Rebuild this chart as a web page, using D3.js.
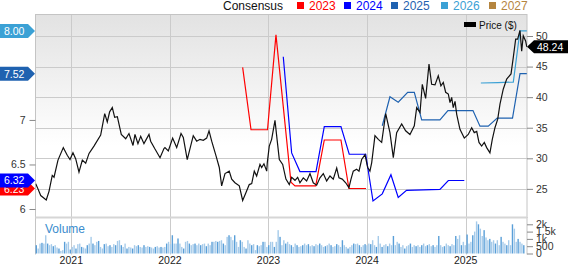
<!DOCTYPE html>
<html><head><meta charset="utf-8">
<script src="https://cdn.jsdelivr.net/npm/d3@7"></script>
<style>body{margin:0;background:#fff}svg{display:block;font-family:"Liberation Sans",Arial,sans-serif}</style>
</head><body><svg id="c" width="568" height="264"></svg>
<script>
// ---------- DATA ----------
const priceT = [2020.639,2020.662,2020.69,2020.746,2020.774,2020.807,2020.825,2020.865,2020.919,2020.959,2020.987,2021.017,2021.045,2021.078,2021.112,2021.146,2021.18,2021.23,2021.298,2021.339,2021.365,2021.389,2021.416,2021.44,2021.467,2021.507,2021.552,2021.585,2021.626,2021.646,2021.676,2021.704,2021.737,2021.788,2021.805,2021.846,2021.9,2021.94,2021.95,2021.984,2022.028,2022.069,2022.113,2022.136,2022.176,2022.237,2022.272,2022.305,2022.339,2022.373,2022.397,2022.424,2022.468,2022.501,2022.525,2022.559,2022.602,2022.627,2022.66,2022.704,2022.738,2022.772,2022.805,2022.83,2022.856,2022.88,2022.914,2022.931,2022.954,2022.982,2022.988,2023.008,2023.032,2023.066,2023.089,2023.11,2023.144,2023.177,2023.211,2023.235,2023.269,2023.296,2023.319,2023.353,2023.387,2023.421,2023.454,2023.489,2023.522,2023.556,2023.59,2023.624,2023.657,2023.692,2023.715,2023.748,2023.783,2023.816,2023.837,2023.86,2023.894,2023.918,2023.945,2023.979,2024.006,2024.029,2024.047,2024.08,2024.114,2024.148,2024.189,2024.232,2024.266,2024.3,2024.351,2024.391,2024.435,2024.479,2024.503,2024.537,2024.56,2024.594,2024.628,2024.655,2024.689,2024.722,2024.749,2024.773,2024.797,2024.824,2024.841,2024.858,2024.874,2024.892,2024.909,2024.942,2024.986,2025.026,2025.061,2025.087,2025.112,2025.135,2025.162,2025.189,2025.213,2025.246,2025.27,2025.297,2025.325,2025.348,2025.381,2025.416,2025.46,2025.483,2025.507,2025.527,2025.551,2025.568,2025.584,2025.608,2025.62];
const priceV = [25.85,25.0,23.9,23.2,24.6,27.2,26.9,29.7,31.75,30.5,29.8,30.9,29.9,27.75,29.7,29.2,30.8,32.0,33.8,37.3,35.95,37.6,38.3,36.7,36.8,33.9,33.2,34.05,32.1,33.9,32.4,33.6,32.4,33.9,32.8,31.6,30.1,31.6,31.75,31.2,33.3,31.75,34.05,33.4,29.8,33.7,32.8,33.1,32.95,33.3,34.5,32.8,30.4,28.5,25.5,27.5,27.9,26.6,26.0,25.5,23.1,24.4,25.7,25.85,27.9,27.1,29.0,28.5,29.1,27.9,29.3,32.0,33.1,36.2,32.8,29.8,29.0,26.6,25.7,26.9,26.4,26.9,26.0,26.8,26.3,27.5,26.0,25.6,26.8,27.5,26.3,27.1,26.6,28.4,26.8,26.6,26.0,25.2,26.6,27.9,28.2,27.9,29.8,30.6,28.5,27.9,29.3,33.7,33.1,32.6,37.3,34.2,30.1,34.2,35.6,34.5,33.9,35.3,38.3,37.5,42.1,39.8,45.4,42.1,42.0,43.5,41.85,42.4,40.8,40.5,39.1,39.95,38.3,39.3,37.2,34.75,33.3,33.9,35.0,34.2,34.4,32.6,32.0,32.6,31.75,30.9,33.1,35.0,36.4,38.85,41.3,42.95,43.8,46.5,49.5,49.5,50.9,47.5,50.05,49.2,48.24];

const cons2023T = [2022.738,2022.823,2022.99,2023.076,2023.228,2023.269,2023.479,2023.566,2023.735,2023.816,2023.989];
const cons2023V = [7.59,6.89,6.89,7.955,6.30,6.26,6.26,6.775,6.775,6.23,6.23];
const cons2024T = [2023.15,2023.235,2023.319,2023.482,2023.566,2023.735,2023.819,2023.986,2024.06,2024.154,2024.242,2024.316,2024.40,2024.739,2024.824,2024.986];
const cons2024V = [7.71,6.63,6.42,6.42,6.925,6.925,6.615,6.615,6.09,6.17,6.385,6.13,6.21,6.22,6.32,6.32];
const cons2025T = [2024.154,2024.232,2024.316,2024.412,2024.479,2024.554,2024.739,2024.82,2025.074,2025.145,2025.229,2025.32,2025.475,2025.551,2025.62];
const cons2025V = [6.935,7.26,7.20,7.31,7.31,7.00,7.00,7.105,7.105,6.93,6.93,7.02,7.02,7.52,7.52];
const cons2026T = [2025.154,2025.326,2025.483,2025.551,2025.62];
const cons2026V = [7.415,7.42,7.425,8.00,8.00];

const seriesNames = ["2023","2024","2025","2026","2027"];
const seriesColors = ["#ff0000","#0000ff","#1f62b0","#3ba1d5","#b5853f"];
const lastEps = [6.23,6.32,7.52,8.00]; // for 2023,2024,2025,2026
const lastPrice = 48.24;

const yearTicks = [2021,2022,2023,2024,2025];
const priceTicks = [25,30,35,40,45,50];
const epsTicks = [6,6.5,7];
const volTicks = [0,500,1000,1500,2000];
const volTickLabels = ["0","500","1k","1.5k","2k"];

const volStart = 2020.645; // first weekly bar
const volume = [570,340,680,730,680,1250,680,570,640,500,570,410,340,180,230,800,680,800,270,
450,570,340,640,680,450,410,340,570,680,1140,680,570,800,860,450,340,640,680,500,570,450,640,570,860,910,570,450,680,340,450,410,340,570,500,570,450,410,570,450,500,450,410,340,450,500,410,450,410,450,680,800,
640,1250,680,680,1030,680,450,340,800,860,680,570,640,680,570,680,570,640,680,500,680,570,800,800,860,800,860,910,680,570,1140,1250,1140,910,1250,800,450,910,800,450,340,910,680,570,640,230,570,500,570,800,800,450,
570,800,800,450,800,1600,1140,570,910,680,800,640,570,450,680,570,450,500,570,680,570,640,500,570,500,640,570,680,570,450,500,570,680,570,450,500,640,570,450,910,570,450,340,450,570,680,640,680,570,450,570,640,
570,680,640,910,570,450,1200,680,450,570,640,500,680,570,1200,570,800,680,450,570,340,500,570,680,450,570,500,570,450,570,680,500,570,640,500,570,450,570,1200,570,450,500,680,570,500,640,570,1200,1000,1250,570,800,
570,1300,680,800,1250,1500,2200,2000,1700,1200,1600,1100,910,1000,800,910,680,910,570,1140,800,680,570,910,570,2000,1700,800,1000,800,680,570];

// ---------- LAYOUT ----------
const svg = d3.select("#c");
const L = 35.5, R = 527, T = 14, B = 217, VB = 253.5, VT = 224.3;
const x = d3.scaleLinear().domain([2020.637, 2025.622]).range([L, R]);
const yP = d3.scaleLinear().domain([20.4, 53.6]).range([B, T]);
const yE = d3.scaleLinear().domain([5.91, 8.19]).range([B, T]);
const yV = d3.scaleLinear().domain([0, 2000]).range([VB, VT]);

const defs = svg.append("defs");
const grad = defs.append("linearGradient").attr("id","bg").attr("x1",0).attr("y1",0).attr("x2",0).attr("y2",1);
grad.append("stop").attr("offset","0%").attr("stop-color","#e2e2e2");
grad.append("stop").attr("offset","65%").attr("stop-color","#ffffff");
defs.append("clipPath").attr("id","clip").append("rect").attr("x",L).attr("y",T).attr("width",R-L).attr("height",B-T);

svg.append("rect").attr("x",L).attr("y",T).attr("width",R-L).attr("height",B-T).attr("fill","url(#bg)");

// horizontal grid
svg.append("g").selectAll("line").data(priceTicks).join("line")
  .attr("x1",L).attr("x2",R).attr("y1",d=>Math.round(yP(d))+0.5).attr("y2",d=>Math.round(yP(d))+0.5)
  .attr("stroke","#cbcbcb");
// vertical grid
svg.append("g").selectAll("line").data(yearTicks).join("line")
  .attr("x1",d=>Math.round(x(d))+0.5).attr("x2",d=>Math.round(x(d))+0.5).attr("y1",T).attr("y2",VB+1)
  .attr("stroke","#cbcbcb");
// frame
svg.append("rect").attr("x",L).attr("y",T+0.5).attr("width",R-L).attr("height",B-T).attr("fill","none").attr("stroke","#c4c4c4");
svg.append("line").attr("x1",R).attr("x2",R).attr("y1",B).attr("y2",VB+1).attr("stroke","#c4c4c4");
svg.append("line").attr("x1",L).attr("x2",L).attr("y1",B).attr("y2",VB+1).attr("stroke","#c4c4c4");
svg.append("line").attr("x1",L).attr("x2",R).attr("y1",B+0.5).attr("y2",B+0.5).attr("stroke","#d6d6d6").attr("stroke-width",2);

// volume bars
const volG = svg.append("g");
volG.selectAll("rect").data(volume).join("rect")
  .attr("x",(d,i)=>x(volStart + i*7/365.25)-0.7)
  .attr("width",1.4)
  .attr("y",d=>yV(d))
  .attr("height",d=>VB-yV(d))
  .attr("fill",(d,i)=> (i%3===0) ? "#5a9fd8" : "#a6cbea");
svg.append("text").attr("x",45).attr("y",233).attr("fill","#3a8ccd").attr("font-size",12).text("Volume");

// consensus lines
const plot = svg.append("g").attr("clip-path","url(#clip)");
const consT = [cons2023T,cons2024T,cons2025T,cons2026T];
const consV = [cons2023V,cons2024V,cons2025V,cons2026V];
consT.forEach((ts,k)=>{
  const pts = ts.map((t,i)=>[x(t), yE(consV[k][i])]);
  plot.append("path").attr("d",d3.line()(pts)).attr("fill","none")
    .attr("stroke",seriesColors[k]).attr("stroke-width",1.2);
});
// price line
const ppts = priceT.map((t,i)=>[x(t), yP(priceV[i])]);
plot.append("path").attr("d",d3.line()(ppts)).attr("fill","none").attr("stroke","#111").attr("stroke-width",1.2);

// right axis (price)
const ra = svg.append("g").attr("transform",`translate(${R},0)`)
  .call(d3.axisRight(yP).tickValues(priceTicks).tickSize(6).tickPadding(3));
ra.select(".domain").remove();
ra.selectAll("line").attr("stroke","#888");
ra.selectAll("text").attr("font-size",10.5).attr("fill","#333").attr("font-family","Liberation Sans, Arial");

// right axis (volume)
const va = svg.append("g").attr("transform",`translate(${R},0)`)
  .call(d3.axisRight(yV).tickValues(volTicks).tickSize(6).tickPadding(3).tickFormat((d,i)=>volTickLabels[i]));
va.select(".domain").remove();
va.selectAll("line").attr("stroke","#888");
va.selectAll("text").attr("font-size",10.5).attr("fill","#333").attr("font-family","Liberation Sans, Arial");

// left axis (EPS)
const la = svg.append("g").attr("transform",`translate(${L},0)`)
  .call(d3.axisLeft(yE).tickValues(epsTicks).tickSize(6).tickPadding(4).tickFormat(d3.format("")));
la.select(".domain").remove();
la.selectAll("line").attr("stroke","#888");
la.selectAll("text").attr("font-size",10.5).attr("fill","#333").attr("font-family","Liberation Sans, Arial");

// bottom year labels
svg.append("g").selectAll("text").data(yearTicks).join("text")
  .attr("x",d=>x(d)).attr("y",263.5).attr("text-anchor","middle").attr("font-size",10.5).attr("fill","#222").text(d=>d);

// left value tags (2023 first so 2024 overlaps)
lastEps.forEach((v,k)=>{
  const cy = yE(v);
  const g = svg.append("g");
  g.append("path").attr("d",`M0,${cy-7}H28L35,${cy}L28,${cy+7}H0Z`).attr("fill",seriesColors[k]);
  g.append("text").attr("x",4).attr("y",cy+4).attr("fill","#fff").attr("font-size",10.5).text(d3.format(".2f")(v));
});

// price tag
const py = yP(lastPrice);
svg.append("path").attr("d",`M${R},${py}L${R+7},${py-6.5}H568V${py+6.5}H${R+7}Z`).attr("fill","#000");
svg.append("text").attr("x",537).attr("y",py+4).attr("fill","#fff").attr("font-size",10.5).text(d3.format(".2f")(lastPrice));

// legend
svg.append("text").attr("x",223).attr("y",9.5).attr("font-size",12).attr("fill","#111").text("Consensus");
const legX = [297,344,391,441,489];
seriesNames.forEach((n,k)=>{
  svg.append("rect").attr("x",legX[k]).attr("y",2).attr("width",7).attr("height",7).attr("fill",seriesColors[k]);
  svg.append("text").attr("x",legX[k]+12).attr("y",9.5).attr("font-size",12).attr("fill",seriesColors[k]).text(n);
});
svg.append("rect").attr("x",464).attr("y",22).attr("width",12).attr("height",5).attr("fill","#000");
svg.append("text").attr("x",479).attr("y",28.5).attr("font-size",10).attr("fill","#111").text("Price ($)");
</script></body></html>
